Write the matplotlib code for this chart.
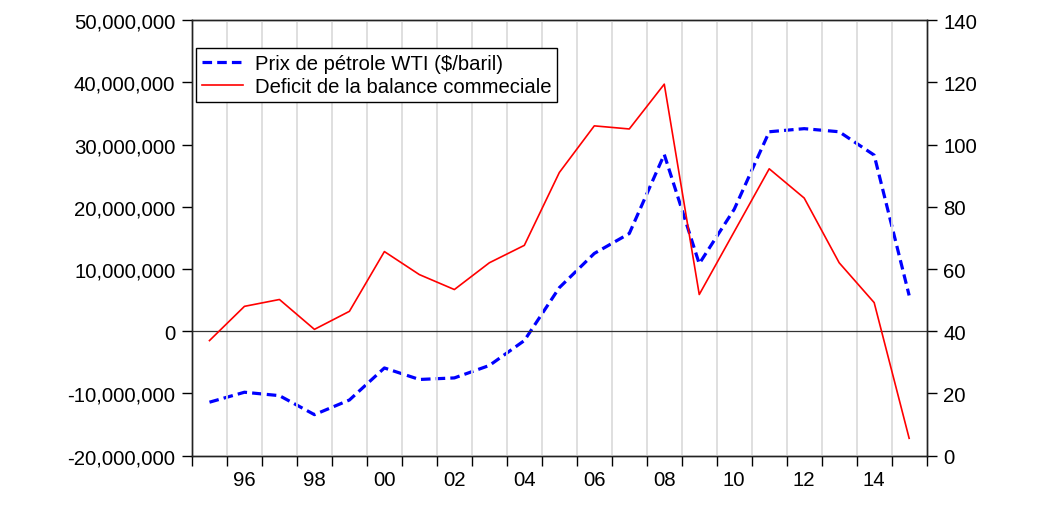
import numpy as np
import matplotlib.pyplot as plt
from matplotlib.ticker import FuncFormatter, FixedLocator

plt.rcParams['font.family'] = ['Liberation Sans', 'DejaVu Sans']

years = list(range(1995, 2016))
# trade balance deficit (left axis)
deficit = [-1.5e6, 4.0e6, 5.1e6, 0.3e6, 3.2e6, 12.8e6, 9.1e6, 6.7e6, 11.0e6, 13.8e6,
           25.5e6, 33.0e6, 32.5e6, 39.7e6, 5.9e6, 16.0e6, 26.1e6, 21.4e6, 11.0e6, 4.6e6,
           -17.2e6]
# WTI oil price (right axis)
wti = [17.2, 20.4, 19.3, 13.2, 17.9, 28.2, 24.5, 25.0, 29.0, 37.0,
       54.0, 65.0, 71.4, 96.8, 61.7, 79.2, 104.1, 105.1, 104.1, 96.6,
       51.5]
xlabels = ['96', '98', '00', '02', '04', '06', '08', '10', '12', '14']
xlabel_years = [1996, 1998, 2000, 2002, 2004, 2006, 2008, 2010, 2012, 2014]

fig = plt.figure(figsize=(10.4, 5.06), dpi=100)
ax = fig.add_axes([0.1846, 0.0974, 0.7064, 0.861])
ax2 = ax.twinx()

bounds = np.arange(years[0] - 0.5, years[-1] + 1.0, 1.0)
for b in bounds[1:-1]:
    ax.axvline(b, color='#dcdcdc', lw=1.3, zorder=0)
ax.axhline(0, color='#333333', lw=0.9, zorder=1)

l1, = ax.plot(years, deficit, color='red', lw=1.2, zorder=3,
              label='Deficit de la balance commeciale')
l2, = ax2.plot(years, wti, color='blue', lw=2.3, zorder=3,
               label='Prix de pétrole WTI ($/baril)')
l2.set_dashes([3.0, 1.6])

ax.set_xlim(bounds[0], bounds[-1])
ax.set_ylim(-20e6, 50e6)
ax.set_yticks(np.arange(-20e6, 50e6 + 1, 10e6))
ax.yaxis.set_major_formatter(FuncFormatter(lambda v, p: '{:,.0f}'.format(v)))
ax2.set_ylim(0, 140)
ax2.set_yticks(np.arange(0, 141, 20))

ax.xaxis.set_major_locator(FixedLocator(bounds))
ax.xaxis.set_minor_locator(FixedLocator(xlabel_years))
ax.set_xticklabels([])
ax.set_xticklabels(xlabels, minor=True)
ax.tick_params(axis='x', which='major', direction='out', length=7, width=1)
ax.tick_params(axis='x', which='minor', length=0, pad=10, labelsize=14.7)
ax.tick_params(axis='y', direction='out', length=7, width=1, labelsize=14.7, pad=5)
ax2.tick_params(axis='y', direction='out', length=7, width=1, labelsize=14.7, pad=5)

for a in (ax, ax2):
    for s in a.spines.values():
        s.set_linewidth(1.0)
        s.set_color('#222222')

leg = ax.legend([l2, l1], [l2.get_label(), l1.get_label()], loc='upper left',
                bbox_to_anchor=(0.0, 0.945), fontsize=14.6, frameon=True,
                fancybox=False, edgecolor='black', framealpha=1,
                handlelength=2.0, handletextpad=0.6, borderpad=0.3,
                labelspacing=0.2, borderaxespad=0.2)
leg.get_frame().set_linewidth(1.0)
ax.set_zorder(ax2.get_zorder() + 1)
ax.patch.set_visible(False)
ax2.patch.set_visible(True)

fig.savefig('out.png', dpi=100)
